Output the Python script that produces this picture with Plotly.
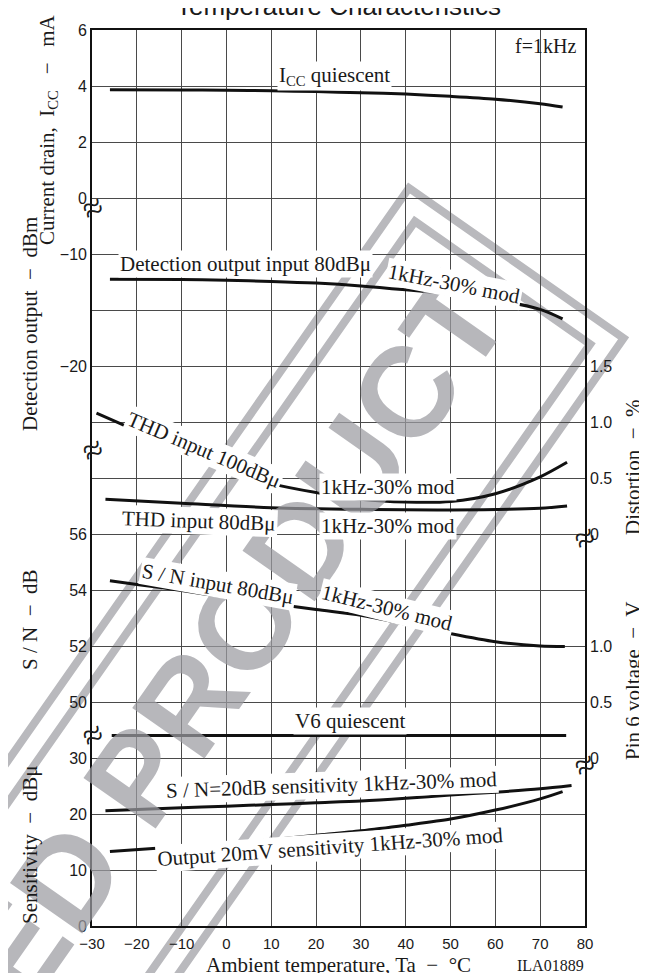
import math
import plotly.graph_objects as go

# ---------------- data ----------------
temp_icc = [-26, -10, 0, 10, 20, 30, 40, 50, 60, 70, 75]
icc_ma = [3.87, 3.86, 3.85, 3.83, 3.80, 3.76, 3.71, 3.63, 3.53, 3.37, 3.25]

temp_det = [-26, -10, 0, 10, 20, 30, 40, 50, 60, 70, 75]
det_dbm = [-12.25, -12.28, -12.35, -12.45, -12.6, -12.85, -13.2, -13.6, -14.1, -14.95, -15.8]

temp_thd100 = [-29, -20, -10, 0, 10, 20, 30, 40, 50, 60, 70, 76]
thd100_pct = [1.08, 0.92, 0.73, 0.57, 0.45, 0.37, 0.31, 0.285, 0.29, 0.36, 0.51, 0.64]

temp_thd80 = [-27, -10, 10, 30, 50, 70, 76]
thd80_pct = [0.31, 0.275, 0.235, 0.22, 0.215, 0.23, 0.25]

temp_sn = [-26, -20, -10, 0, 10, 20, 30, 40, 50, 60, 70, 75.5]
sn_db = [54.33, 54.2, 53.98, 53.74, 53.52, 53.3, 53.1, 52.78, 52.44, 52.15, 52.0, 51.98]

temp_v6 = [-25.6, 0, 25, 50, 75.8]
v6_volt = [0.2, 0.2, 0.2, 0.2, 0.2]

temp_sens20 = [-27, -10, 0, 10, 20, 30, 40, 50, 60, 70, 77]
sens20_dbu = [20.6, 21.1, 21.4, 21.7, 22.0, 22.3, 22.8, 23.4, 23.9, 24.5, 25.1]

temp_out20 = [-26, -10, 0, 10, 20, 30, 40, 50, 60, 70, 75]
out20_dbu = [13.3, 14.2, 14.7, 15.4, 16.2, 17.0, 18.0, 19.1, 20.7, 22.7, 24.0]

x_ticks = [-30, -20, -10, 0, 10, 20, 30, 40, 50, 60, 70, 80]
icc_ticks = [0, 2, 4, 6]
det_ticks = [-10, -20]
dist_ticks = [0, 0.5, 1.0, 1.5]
dist_ticklabels = ["0", "0.5", "1.0", "1.5"]
sn_ticks = [50, 52, 54, 56]
pin6_ticks = [0, 0.5, 1.0]
pin6_ticklabels = ["0", "0.5", "1.0"]
sens_ticks = [0, 10, 20, 30]

# ---------------- layout geometry ----------------
W, H = 647, 973
L, R, T, B = 84, 70, 22, 55
PW, PH = W - L - R, H - T - B
ROW = PH / 16.0

def px2paper_x(px):
    return (px - L) / PW

def px2paper_y(py):
    return (H - B - py) / PH

def px2row(py):
    return (H - B - py) / ROW

SERIF = "Liberation Serif"
SANS = "Liberation Sans"
INK = "#1a1a1a"
WM = "#b9b9bd"

fig = go.Figure()

line_style = dict(color="#111111", width=3, shape="spline", smoothing=0.8)
series = [
    (temp_icc, icc_ma, "y2", "ICC quiescent"),
    (temp_det, det_dbm, "y3", "Detection output"),
    (temp_thd100, thd100_pct, "y4", "THD 100dBu"),
    (temp_thd80, thd80_pct, "y4", "THD 80dBu"),
    (temp_sn, sn_db, "y5", "S/N"),
    (temp_v6, v6_volt, "y6", "V6 quiescent"),
    (temp_sens20, sens20_dbu, "y7", "S/N=20dB sensitivity"),
    (temp_out20, out20_dbu, "y7", "Output 20mV sensitivity"),
]
for xs, ys, ax, name in series:
    fig.add_trace(go.Scatter(x=xs, y=ys, yaxis=ax, mode="lines", line=line_style,
                             name=name, showlegend=False, hoverinfo="skip"))

tickfont = dict(family=SANS, size=16, color=INK)

def overlay_axis(rng, tickvals, side="left", ticktext=None):
    d = dict(overlaying="y", anchor="x", side=side, range=rng, tickvals=tickvals,
             showgrid=False, zeroline=False, showline=False, ticks="",
             tickfont=tickfont, ticklabelstandoff=4)
    if ticktext is not None:
        d["ticktext"] = ticktext
    return d

fig.update_layout(
    width=W, height=H,
    margin=dict(l=L, r=R, t=T, b=B, autoexpand=False),
    paper_bgcolor="white", plot_bgcolor="white",
    showlegend=False,
    xaxis=dict(range=[-30, 80], tickvals=x_ticks, showgrid=True, gridcolor="#4a4a4a",
               gridwidth=1, zeroline=False, showline=True, mirror=True,
               linecolor="#111111", linewidth=1.6, ticks="",
               tickfont=dict(family=SANS, size=15, color=INK), ticklabelstandoff=3),
    yaxis=dict(range=[0, 16], dtick=1, showgrid=True, gridcolor="#4a4a4a", gridwidth=1,
               zeroline=False, showline=True, mirror=True, linecolor="#111111",
               linewidth=1.6, showticklabels=False, ticks=""),
    yaxis2=overlay_axis([-26, 6], icc_ticks),
    yaxis3=overlay_axis([-70, 10], det_ticks),
    yaxis4=overlay_axis([-3.5, 4.5], dist_ticks, side="right", ticktext=dist_ticklabels),
    yaxis5=overlay_axis([42, 74], sn_ticks),
    yaxis6=overlay_axis([-1.5, 6.5], pin6_ticks, side="right", ticktext=pin6_ticklabels),
    yaxis7=overlay_axis([0, 160], sens_ticks),
)

# ---------------- watermark outline (decorative) ----------------
ang = math.radians(55)
u = (math.cos(ang), -math.sin(ang))      # reading direction (up-right)
v = (math.sin(ang), math.cos(ang))       # perpendicular (down-right)
A = (401, 180)
w_box, L_box, d_in = 262, 1150, 24

def add(p, q, s=1.0):
    return (p[0] + s * q[0], p[1] + s * q[1])

def rect_path(a, wbox, lbox):
    b = add(a, v, wbox)
    c = add(b, u, -lbox)
    d = add(a, u, -lbox)
    pts = [a, b, c, d]
    return "M " + " L ".join(f"{px2paper_x(p[0]):.4f},{px2paper_y(p[1]):.4f}" for p in pts) + " Z"

A_in = add(add(A, u, -d_in), v, d_in)
for a, wb in [(A, w_box), (A_in, w_box - 2 * d_in)]:
    fig.add_shape(type="path", path=rect_path(a, wb, L_box), xref="paper", yref="paper",
                  line=dict(color=WM, width=8), fillcolor="rgba(0,0,0,0)", layer="below")

annotations = []
# watermark letters
annotations.append(dict(text="<b>ED PRODUCT</b>", xref="paper", yref="paper",
                        x=px2paper_x(226), y=px2paper_y(630), showarrow=False,
                        xanchor="center", yanchor="middle", textangle=-55,
                        font=dict(family=SANS, size=128, color="#9c9ca2"), opacity=0.72))

# title
annotations.append(dict(text="Temperature Characteristics", xref="paper", yref="paper",
                        x=px2paper_x(330), y=px2paper_y(-2), showarrow=False,
                        xanchor="center", yanchor="middle",
                        font=dict(family=SANS, size=26, color=INK)))

# curve labels (x in °C, y in grid rows)
labels = [
    ("I<sub>CC</sub> quiescent", 24.1, 68, 0),
    ("Detection output input 80dBμ", 4.2, 256, 0),
    ("1kHz-30% mod", 50.8, 276, 11),
    ("THD input 100dBμ", -5.0, 442, 23),
    ("1kHz-30% mod", 36.1, 479, 0),
    ("THD input 80dBμ", -6.1, 513, 2),
    ("1kHz-30% mod", 36.1, 518, 0),
    ("S / N input 80dBμ", -1.9, 576, 10),
    ("1kHz-30% mod", 35.9, 600, 14),
    ("V6 quiescent", 27.6, 713, 0),
    ("S / N=20dB sensitivity 1kHz-30% mod", 23.4, 777, -2),
    ("Output 20mV sensitivity 1kHz-30% mod", 23.2, 839, -4),
]
for txt, tx, py, a in labels:
    annotations.append(dict(text=txt, x=tx, y=px2row(py), xref="x", yref="y",
                            showarrow=False, textangle=a, bgcolor="white", borderpad=1,
                            font=dict(family=SERIF, size=21, color=INK)))

annotations.append(dict(text="f=1kHz", x=78.4, y=px2row(38), xref="x", yref="y",
                        showarrow=False, xanchor="right",
                        font=dict(family=SERIF, size=20, color=INK)))

# axis titles
titles = [
    ("Current drain,  I<sub>CC</sub>   −   mA", 40, 122, -90),
    ("Detection output  −  dBm", 22, 316, -90),
    ("S / N  −  dB", 22, 612, -90),
    ("Sensitivity  −  dBμ", 22, 837, -90),
    ("Distortion  −  %", 625, 459, -90),
    ("Pin 6 voltage  −  V", 625, 673, -90),
    ("Ambient temperature, Ta  −  °C", 330, 957, 0),
]
for txt, px, py, a in titles:
    annotations.append(dict(text=txt, xref="paper", yref="paper",
                            x=px2paper_x(px), y=px2paper_y(py), showarrow=False,
                            xanchor="center", yanchor="middle", textangle=a,
                            font=dict(family=SERIF, size=21, color=INK)))

annotations.append(dict(text="ILA01889", xref="paper", yref="paper",
                        x=px2paper_x(542), y=px2paper_y(957), showarrow=False,
                        xanchor="center", yanchor="middle",
                        font=dict(family=SERIF, size=16, color=INK)))

# axis break marks
for px, py in [(85, 200), (85, 442), (85, 727), (577, 530), (577, 757)]:
    annotations.append(dict(text="≈", xref="paper", yref="paper",
                            x=px2paper_x(px), y=px2paper_y(py), showarrow=False,
                            xanchor="center", yanchor="middle", textangle=-25,
                            font=dict(family=SERIF, size=36, color=INK)))

fig.update_layout(annotations=annotations)

fig.write_html("out.html")
